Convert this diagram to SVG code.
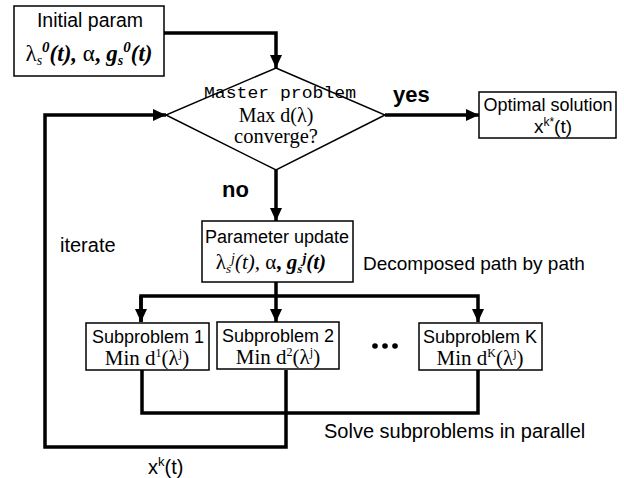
<svg xmlns="http://www.w3.org/2000/svg" width="624" height="478" viewBox="0 0 624 478">
<defs>
<marker id="ah" markerUnits="userSpaceOnUse" markerWidth="14" markerHeight="14" viewBox="0 0 14 14" refX="13" refY="7" orient="auto">
<path d="M0,1 L13,7 L0,13 Z" fill="#000"/>
</marker>
</defs>
<style>
.box{fill:#fff;stroke:#000;stroke-width:1.5}
.conn{fill:none;stroke:#000;stroke-width:3.5}
.sans{font-family:"Liberation Sans",Arial,sans-serif;fill:#000}
.serif{font-family:"Liberation Serif","Times New Roman",serif;fill:#000}
.mono{font-family:"Liberation Mono","Courier New",monospace;fill:#000}
.lbl{font-family:"Liberation Sans",Arial,sans-serif;font-weight:bold;font-size:22px;fill:#000}
.mid{text-anchor:middle}
.bi{font-weight:bold;font-style:italic}
</style>
<g id="connectors">
<polyline class="conn" points="164,33 276,33 276,68" marker-end="url(#ah)"/>
<line class="conn" x1="385" y1="115" x2="479" y2="115" marker-end="url(#ah)"/>
<line class="conn" x1="276" y1="170" x2="276" y2="221" marker-end="url(#ah)"/>
<polyline class="conn" points="276,282 276,296"/>
<polyline class="conn" points="141,322 141,296 478,296 478,322" marker-end="url(#ah)"/>
<line class="conn" x1="141" y1="296" x2="141" y2="322" marker-end="url(#ah)"/>
<line class="conn" x1="276" y1="296" x2="276" y2="322" marker-end="url(#ah)"/>
<polyline class="conn" points="142,370 142,413 478,413 478,370"/>
<polyline class="conn" points="286,370 286,447 45,447 45,115 166,115" marker-end="url(#ah)"/>
</g>
<g id="initial">
<rect class="box" x="14" y="6" width="150" height="70"/>
<text class="sans mid" x="90" y="27" font-size="19.5">Initial param</text>
<text class="serif mid" x="89" y="61" font-size="23"><tspan>λ</tspan><tspan font-size="14" font-style="italic" baseline-shift="-4">s</tspan><tspan class="bi" font-size="15" baseline-shift="9">0</tspan><tspan class="bi">(t), </tspan><tspan>α</tspan><tspan font-weight="bold">, </tspan><tspan class="bi">g</tspan><tspan class="bi" font-size="14" baseline-shift="-4">s</tspan><tspan class="bi" font-size="15" baseline-shift="9">0</tspan><tspan class="bi">(t)</tspan></text>
</g>
<g id="master">
<polygon class="box" points="276,68 385,115 276,170 166,115"/>
<text class="mono mid" x="280" y="98" font-size="17" textLength="152" lengthAdjust="spacingAndGlyphs">Master problem</text>
<text class="serif mid" x="276" y="122" font-size="20">Max d(λ)</text>
<text class="serif mid" x="276" y="143" font-size="20.5">converge?</text>
</g>
<g id="optimal">
<rect class="box" x="479" y="92" width="137" height="46"/>
<text class="sans mid" x="548" y="111" font-size="18">Optimal solution</text>
<text class="sans mid" x="553" y="133" font-size="19">x<tspan font-size="12" baseline-shift="7">k*</tspan>(t)</text>
</g>
<g id="update">
<rect class="box" x="202" y="221" width="151" height="61"/>
<text class="sans mid" x="277" y="243" font-size="18">Parameter update</text>
<text class="serif mid" x="271" y="269" font-size="21"><tspan>λ</tspan><tspan font-size="13" font-style="italic" baseline-shift="-4">s</tspan><tspan font-style="italic" font-size="14" baseline-shift="6">j</tspan><tspan font-style="italic">(t), </tspan><tspan>α</tspan><tspan font-weight="bold">,  </tspan><tspan class="bi">g</tspan><tspan class="bi" font-size="13" baseline-shift="-4">s</tspan><tspan class="bi" font-size="14" baseline-shift="6">j</tspan><tspan class="bi">(t)</tspan></text>
</g>
<g id="sub1">
<rect class="box" x="86" y="323" width="123" height="47"/>
<text class="sans mid" x="148" y="343" font-size="18">Subproblem 1</text>
<text class="serif mid" x="147" y="365" font-size="21">Min d<tspan font-size="12" baseline-shift="8">1</tspan>(λ<tspan font-size="12" baseline-shift="8">j</tspan>)</text>
</g>
<g id="sub2">
<rect class="box" x="217" y="322" width="122" height="47"/>
<text class="sans mid" x="278" y="342" font-size="18">Subproblem 2</text>
<text class="serif mid" x="278" y="364" font-size="21">Min d<tspan font-size="12" baseline-shift="8">2</tspan>(λ<tspan font-size="12" baseline-shift="8">j</tspan>)</text>
</g>
<g id="dots">
<circle cx="375" cy="346" r="2.8"/>
<circle cx="385" cy="346" r="2.8"/>
<circle cx="395" cy="346" r="2.8"/>
</g>
<g id="subK">
<rect class="box" x="419" y="323" width="123" height="47"/>
<text class="sans mid" x="480" y="343" font-size="18">Subproblem K</text>
<text class="serif mid" x="480" y="365" font-size="21">Min d<tspan font-size="12" baseline-shift="8">K</tspan>(λ<tspan font-size="12" baseline-shift="8">j</tspan>)</text>
</g>
<g id="labels">
<text class="lbl" x="393" y="102">yes</text>
<text class="lbl" x="222" y="197">no</text>
<text class="sans" x="60" y="252" font-size="20">iterate</text>
<text class="sans" x="363" y="270" font-size="19">Decomposed path by path</text>
<text class="sans" x="324" y="438" font-size="20">Solve subproblems in parallel</text>
<text class="sans" x="148" y="474" font-size="20">x<tspan font-size="13" baseline-shift="8">k</tspan>(t)</text>
</g>
</svg>
